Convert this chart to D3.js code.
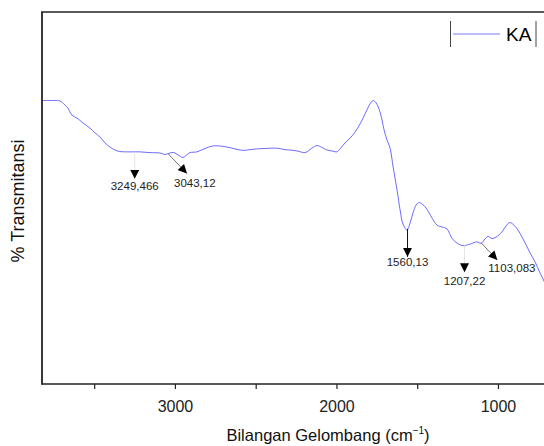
<!DOCTYPE html>
<html><head><meta charset="utf-8">
<script src="https://cdn.jsdelivr.net/npm/d3@7"></script>
<style>
html,body{margin:0;padding:0;background:#fff;}
svg{display:block;font-family:"Liberation Sans",Arial,sans-serif;}
</style></head>
<body>
<svg id="c" width="544" height="446"></svg>
<script>
// Wavenumber (cm-1) and % transmittance of sample KA
const wavenumber = [3823,3743,3712,3681,3663,3638,3607,3570,3526,3495,3464,3433,3402,3372,3341,3279,3217,3155,3093,3062,3031,3006,2981,2950,2926,2907,2864,2814,2765,2690,2628,2579,2536,2492,2443,2368,2319,2288,2238,2195,2152,2121,2090,2059,2022,1997,1978,1947,1916,1885,1854,1835,1811,1792,1773,1755,1730,1705,1687,1668,1649,1625,1606,1588,1563,1544,1526,1507,1489,1470,1445,1408,1377,1346,1316,1285,1254,1216,1173,1130,1105,1080,1062,1037,1012,975,950,926,901,876,851,826,801,770,739,715,678];
const transmittance = [76.2,76.2,76.1,75.0,74.2,72.3,71.5,70.2,68.8,67.5,66.4,64.8,63.7,62.9,62.5,62.4,62.4,62.2,62.1,61.7,62.1,62.2,61.6,60.9,61.6,62.2,62.4,63.3,64.0,63.8,63.2,62.8,63.0,63.2,63.3,63.4,63.0,62.9,62.6,62.2,63.4,64.1,63.6,62.9,62.6,62.4,63.2,64.8,66.1,67.7,69.9,71.5,73.7,75.3,76.2,75.6,73.1,68.3,65.6,63.4,58.3,52.2,46.8,43.0,41.4,43.3,46.0,48.1,48.8,48.4,47.3,44.6,42.7,42.2,41.7,39.2,37.9,37.2,37.6,38.2,37.8,39.0,39.7,39.1,39.5,40.9,42.5,43.4,42.7,41.4,39.5,37.4,35.2,32.8,29.8,27.7,23.9];
const xTicks = [3500,3000,2500,2000,1500,1000];
const xTickLabels = ["","3000","","2000","","1000"];
const peakLabels = ["3249,466","3043,12","1560,13","1207,22","1103,083"];
const peakWavenumbers = [3249,3043,1560,1207,1103];
const seriesName = "KA";

const svg = d3.select("#c");
const L=42, R=544, T=12, B=384;
const x = d3.scaleLinear().domain([3823,715]).range([L,R]);
const y = d3.scaleLinear().domain([0,100]).range([B,T]);

svg.append("clipPath").attr("id","clip").append("rect")
  .attr("x",L).attr("y",T).attr("width",R-L).attr("height",B-T);

const pts = wavenumber.map((w,i)=>[w,transmittance[i]]);
const line = d3.line().x(d=>x(d[0])).y(d=>y(d[1])).curve(d3.curveCatmullRom.alpha(0.5));
svg.append("path").datum(pts).attr("clip-path","url(#clip)")
  .attr("d",line).attr("fill","none").attr("stroke","#4646ff").attr("stroke-width",0.8);

function valAt(w){
  for(let i=0;i<wavenumber.length-1;i++){
    const a=wavenumber[i], b=wavenumber[i+1];
    if(w<=a && w>=b){const t=(a-w)/(a-b); return transmittance[i]+(transmittance[i+1]-transmittance[i])*t;}
  }
  return transmittance[transmittance.length-1];
}

const defs = svg.append("defs");
defs.append("marker").attr("id","ah2").attr("viewBox","0 0 10 10").attr("refX",10).attr("refY",5)
  .attr("markerWidth",9).attr("markerHeight",9).attr("markerUnits","userSpaceOnUse").attr("orient","auto")
  .append("path").attr("d","M0,0L10,5L0,10Z").attr("fill","#000");

const annoStyle = [
  {tdx:0, tdy:27, stroke:"#e4e4e4", tx:0, ty:38, anchor:"middle"},
  {tdx:19, tdy:20, stroke:"#777", tx:6, ty:33, anchor:"start"},
  {tdx:0, tdy:28, stroke:"#111", tx:0, ty:37, anchor:"middle"},
  {tdx:0, tdy:27, stroke:"#e4e4e4", tx:0, ty:40, anchor:"middle"},
  {tdx:16, tdy:17, stroke:"#777", tx:7, ty:29, anchor:"start"}
];
const ag = svg.append("g");
peakWavenumbers.forEach((w,i)=>{
  const s=annoStyle[i];
  const px=x(w), py=y(valAt(w));
  ag.append("line").attr("x1",px).attr("y1",py).attr("x2",px+s.tdx).attr("y2",py+s.tdy)
    .attr("stroke",s.stroke).attr("stroke-width",1).attr("marker-end","url(#ah2)");
  ag.append("text").attr("x",px+s.tx).attr("y",py+s.ty).attr("text-anchor",s.anchor)
    .attr("font-size","11.5px").attr("fill","#222").text(peakLabels[i]);
});

const ax = svg.append("g").attr("transform",`translate(0,${B})`)
  .call(d3.axisBottom(x).tickValues(xTicks).tickSize(5).tickPadding(12)
    .tickFormat((d,i)=>xTickLabels[i]));
ax.select(".domain").remove();
ax.selectAll(".tick line").attr("stroke","#222").attr("stroke-width",1.2);
ax.selectAll(".tick text").attr("font-size","16px").attr("fill","#222").attr("font-family","Liberation Sans, Arial, sans-serif");

svg.append("line").attr("x1",L).attr("x2",R).attr("y1",B).attr("y2",B).attr("stroke","#222").attr("stroke-width",1.6);
svg.append("line").attr("x1",L).attr("x2",L).attr("y1",T).attr("y2",B+0.8).attr("stroke","#222").attr("stroke-width",1.8);
svg.append("line").attr("x1",L-0.9).attr("x2",R).attr("y1",T).attr("y2",T).attr("stroke","#222").attr("stroke-width",1.6);

const xt = svg.append("text").attr("x",328).attr("y",441).attr("text-anchor","middle")
  .attr("font-size","16.5px").attr("fill","#111");
xt.append("tspan").text("Bilangan Gelombang (cm");
xt.append("tspan").attr("font-size","10px").attr("dy","-7").text("−1");
xt.append("tspan").attr("dy","7").text(")");

svg.append("text").attr("transform","translate(24,201) rotate(-90)").attr("text-anchor","middle")
  .attr("font-size","18px").attr("fill","#111").text("% Transmitansi");

const lg = svg.append("g");
lg.append("line").attr("x1",450.5).attr("x2",450.5).attr("y1",21).attr("y2",47).attr("stroke","#444").attr("stroke-width",1);
lg.append("line").attr("x1",536).attr("x2",536).attr("y1",21).attr("y2",47).attr("stroke","#444").attr("stroke-width",1);
lg.append("line").attr("x1",453).attr("x2",500).attr("y1",34).attr("y2",34).attr("stroke","#7a7aff").attr("stroke-width",1);
lg.append("text").attr("x",506).attr("y",41).attr("font-size","19px").attr("fill","#000").text(seriesName);
</script>
</body></html>
